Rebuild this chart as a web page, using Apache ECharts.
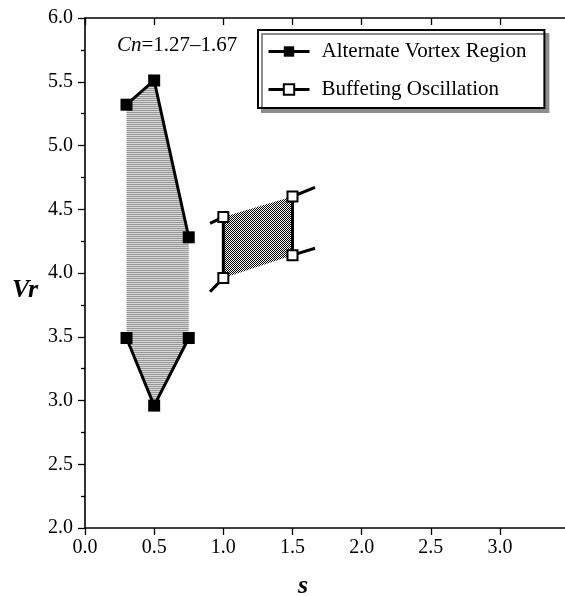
<!DOCTYPE html>
<html>
<head>
<meta charset="utf-8">
<title>Vr vs s</title>
<script src="https://cdn.jsdelivr.net/npm/echarts@6/dist/echarts.min.js"></script>
<style>
  html, body { margin: 0; padding: 0; background: #fff; }
  #chart { width: 565px; height: 596px; }
</style>
</head>
<body>
<div id="chart"></div>
<script>
// Alternate vortex region: upper and lower boundaries at each spacing s
const vortexS = [0.3, 0.5, 0.75];
const vortexUpper = [5.32, 5.51, 4.28];
const vortexLower = [3.49, 2.96, 3.49];

// Buffeting oscillation band: bounds at s = 1.0 and s = 1.5
const buffetS = [1.0, 1.5];
const buffetUpper = [4.44, 4.60];
const buffetLower = [3.96, 4.14];
// short trend stubs drawn outward from each bound
const buffetStubS = [0.904, 1.663];
const buffetStubUpper = [4.39, 4.672];
const buffetStubLower = [3.853, 4.194];

const xTicks = [0.0, 0.5, 1.0, 1.5, 2.0, 2.5, 3.0];
const yTicks = [2.0, 2.5, 3.0, 3.5, 4.0, 4.5, 5.0, 5.5, 6.0];

const SERIF = '"Liberation Serif", "DejaVu Serif", serif';

// fill patterns
function stripePattern() {
  const c = document.createElement('canvas');
  c.width = 4; c.height = 2;
  const g = c.getContext('2d');
  g.fillStyle = '#979797'; g.fillRect(0, 0, 4, 1);
  g.fillStyle = '#d6d6d6'; g.fillRect(0, 1, 4, 1);
  return { image: c, repeat: 'repeat' };
}
function checkerPattern() {
  const c = document.createElement('canvas');
  c.width = 2; c.height = 2;
  const g = c.getContext('2d');
  g.fillStyle = '#f4f4f4'; g.fillRect(0, 0, 2, 2);
  g.fillStyle = '#000000'; g.fillRect(0, 0, 1, 1); g.fillRect(1, 1, 1, 1);
  return { image: c, repeat: 'repeat' };
}

// polygon outlining a band: upper bound left→right, then lower bound right→left
function bandPolygon(xs, upper, lower) {
  const pts = [];
  for (let i = 0; i < xs.length; i++) pts.push([xs[i], upper[i]]);
  for (let i = xs.length - 1; i >= 0; i--) pts.push([xs[i], lower[i]]);
  return pts;
}

function bandSeries(pts, fill) {
  return {
    type: 'custom',
    silent: true,
    z: 1,
    data: [0],
    renderItem: function (params, api) {
      return {
        type: 'polygon',
        shape: { points: pts.map(p => api.coord(p)) },
        style: { fill: fill, stroke: null }
      };
    }
  };
}

const vortexName = 'Alternate Vortex Region';
const buffetName = 'Buffeting Oscillation';

function vortexLine(ys) {
  return {
    name: vortexName,
    type: 'line',
    z: 3,
    data: vortexS.map((s, i) => [s, ys[i]]),
    symbol: 'rect',
    symbolSize: 12,
    itemStyle: { color: '#000' },
    lineStyle: { color: '#000', width: 3 }
  };
}

function buffetLine(k) {
  return {
    name: buffetName,
    type: 'line',
    z: 3,
    data: [
      { value: [buffetStubS[k], buffetStubUpper[k]], symbol: 'none' },
      [buffetS[k], buffetUpper[k]],
      [buffetS[k], buffetLower[k]],
      { value: [buffetStubS[k], buffetStubLower[k]], symbol: 'none' }
    ],
    symbol: 'rect',
    symbolSize: 10,
    itemStyle: { color: '#fff', borderColor: '#000', borderWidth: 2 },
    lineStyle: { color: '#000', width: 3 }
  };
}

const chart = echarts.init(document.getElementById('chart'));
chart.setOption({
  animation: false,
  backgroundColor: '#fff',
  grid: { left: 85, right: 0, top: 18, bottom: 68, outerBoundsMode: 'none', containLabel: false },
  legend: {
    orient: 'vertical',
    left: 258,
    top: 30,
    data: [vortexName, buffetName],
    itemWidth: 41,
    itemHeight: 13,
    itemGap: 17,
    padding: [11, 18, 8, 9],
    backgroundColor: '#fff',
    borderColor: '#000',
    borderWidth: 2,
    borderRadius: 0,
    shadowColor: '#8c8c8c',
    shadowBlur: 0,
    shadowOffsetX: 4,
    shadowOffsetY: 4,
    lineStyle: { width: 3, color: '#000' },
    textStyle: { fontFamily: SERIF, fontSize: 21, color: '#000', padding: [0, 0, 0, 7] }
  },
  graphic: [{
    type: 'text',
    left: 117,
    top: 35,
    style: {
      text: '{i|Cn}=1.27–1.67',
      font: '21px ' + SERIF,
      fill: '#000',
      rich: { i: { fontStyle: 'italic', fontFamily: SERIF, fontSize: 21 } }
    }
  }],
  xAxis: [{
    type: 'value',
    position: 'bottom',
    min: 0,
    max: 3.47,
    interval: 0.5,
    name: 's',
    nameLocation: 'middle',
    nameGap: 45,
    nameTextStyle: { fontFamily: SERIF, fontSize: 26, fontStyle: 'italic', fontWeight: 'bold', color: '#000', padding: [0, 44, 0, 0] },
    axisLine: { lineStyle: { color: '#000', width: 1.6 } },
    axisTick: { length: 7, lineStyle: { color: '#000', width: 1.3 }, customValues: xTicks },
    axisLabel: { fontFamily: SERIF, fontSize: 20, color: '#000', margin: 10, customValues: xTicks, formatter: v => v.toFixed(1) },
    splitLine: { show: false }
  }, {
    type: 'value',
    position: 'top',
    min: 0,
    max: 3.47,
    interval: 0.5,
    axisLine: { lineStyle: { color: '#000', width: 1.6 } },
    axisTick: { inside: true, length: 7, lineStyle: { color: '#000', width: 1.3 }, customValues: xTicks },
    axisLabel: { show: false },
    splitLine: { show: false }
  }],
  yAxis: {
    type: 'value',
    min: 2,
    max: 6,
    interval: 0.5,
    name: 'Vr',
    nameLocation: 'middle',
    nameRotate: 0,
    nameGap: 47,
    nameTextStyle: { fontFamily: SERIF, fontSize: 26, fontStyle: 'italic', fontWeight: 'bold', color: '#000', verticalAlign: 'top', padding: [4, 0, 0, 0] },
    axisLine: { show: true, lineStyle: { color: '#000', width: 1.6 } },
    axisTick: { show: true, length: 7, lineStyle: { color: '#000', width: 1.3 } },
    minorTick: { show: true, splitNumber: 2, length: 4, lineStyle: { color: '#000', width: 1.3 } },
    axisLabel: { fontFamily: SERIF, fontSize: 20, color: '#000', margin: 12, customValues: yTicks, formatter: v => v.toFixed(1) },
    splitLine: { show: false }
  },
  series: [
    bandSeries(bandPolygon(vortexS, vortexUpper, vortexLower), stripePattern()),
    bandSeries(bandPolygon(buffetS, buffetUpper, buffetLower), checkerPattern()),
    vortexLine(vortexUpper),
    vortexLine(vortexLower),
    buffetLine(0),
    buffetLine(1)
  ]
});
</script>
</body>
</html>
